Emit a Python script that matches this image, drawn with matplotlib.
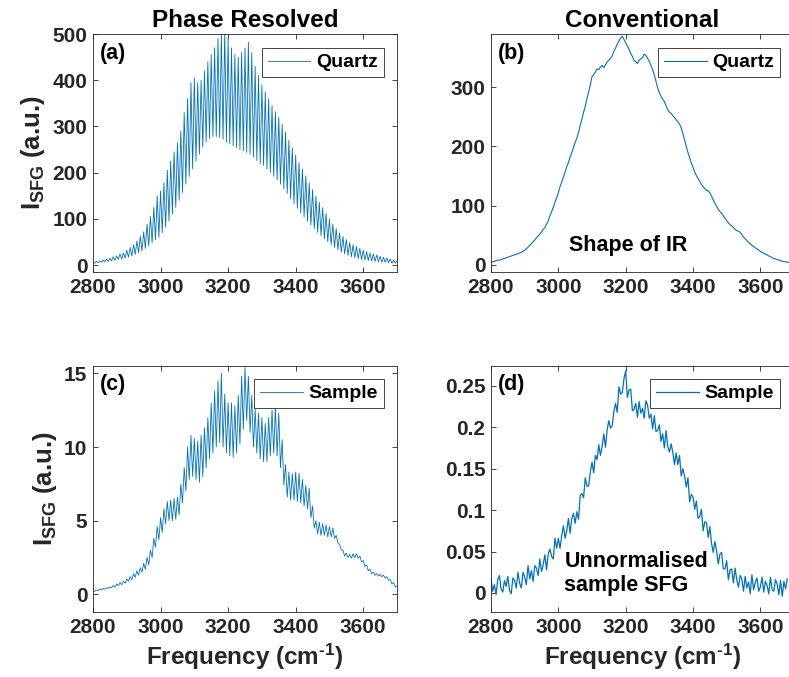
import numpy as np
import matplotlib
matplotlib.use("Agg")
import matplotlib.pyplot as plt
from matplotlib.ticker import FuncFormatter

# ---------------------------------------------------------------------------
# Data
# ---------------------------------------------------------------------------

# (a) phase-resolved quartz: fringe maxima (2800..3700 step 10) and
# fringe minima (2805..3695 step 10)
quartz_pr_peaks = [
    6, 8, 9, 11, 13, 15, 18, 20, 24, 26,
    32, 38, 44, 52, 62, 72, 88, 105, 125, 150,
    160, 178, 205, 225, 245, 265, 290, 330, 360, 395,
    405, 395, 400, 420, 440, 455, 470, 490, 500, 505,
    490, 470, 455, 450, 460, 470, 482, 460, 430, 410,
    390, 375, 360, 345, 332, 320, 305, 288, 270, 254,
    238, 222, 208, 193, 178, 163, 149, 136, 124, 112,
    100, 89, 79, 70, 62, 55, 49, 44, 40, 36,
    32, 29, 26, 24, 22, 19, 17, 15, 13, 11,
    9,
]
quartz_pr_troughs = [
    4, 5, 6, 7, 8, 9, 10, 12, 13, 15,
    17, 20, 23, 27, 31, 36, 42, 48, 55, 60,
    70, 82, 95, 110, 125, 140, 157, 175, 192, 208,
    225, 240, 255, 266, 274, 278, 278, 276, 272, 266,
    262, 258, 254, 250, 247, 244, 240, 234, 226, 219,
    216, 208, 200, 192, 184, 175, 165, 155, 144, 133,
    123, 113, 104, 95, 87, 79, 71, 64, 57, 51,
    44, 38, 33, 28, 24, 21, 18, 16, 14, 12,
    11, 10, 9, 8, 7, 6, 6, 5, 4, 4,
]

# (c) phase-resolved sample: fringe maxima / minima, same grids as (a)
sample_pr_peaks = [
    0.25, 0.3, 0.35, 0.4, 0.45, 0.5, 0.6, 0.7, 0.8, 0.9,
    1.05, 1.2, 1.4, 1.6, 1.8, 2.1, 2.5, 3.0, 3.8, 4.6,
    5.2, 5.8, 6.3, 6.4, 6.5, 6.6, 7.5, 8.6, 10.0, 10.8,
    10.6, 10.4, 10.8, 11.3, 12.0, 13.0, 13.8, 14.5, 15.0, 13.6,
    13.0, 13.0, 12.8, 13.5, 14.8, 15.4, 14.8, 13.5, 12.6, 12.3,
    12.0, 11.6, 12.0, 12.5, 12.7, 12.3, 10.5, 8.8, 8.3, 8.2,
    8.3, 8.2, 7.8, 7.4, 7.2, 6.0, 5.0, 4.9, 4.8, 4.7,
    4.6, 4.5, 4.0, 3.4, 3.0, 2.8, 2.7, 2.75, 2.75, 2.6,
    2.3, 2.0, 1.7, 1.5, 1.4, 1.35, 1.3, 1.2, 1.0, 0.8,
    0.55,
]
sample_pr_troughs = [
    0.2, 0.25, 0.3, 0.35, 0.4, 0.45, 0.5, 0.6, 0.65, 0.75,
    0.9, 1.0, 1.15, 1.3, 1.5, 1.7, 2.0, 2.5, 3.2, 3.7,
    4.2, 4.8, 5.0, 5.0, 5.1, 5.4, 6.2, 7.0, 7.8, 8.0,
    7.8, 7.6, 8.0, 8.6, 9.2, 9.6, 10.0, 10.3, 10.0, 9.6,
    9.4, 9.3, 9.6, 10.2, 11.2, 11.8, 11.0, 10.0, 9.6, 9.2,
    9.0, 9.0, 9.4, 9.6, 9.4, 8.6, 7.4, 6.6, 6.4, 6.4,
    6.3, 6.2, 6.0, 5.8, 5.2, 4.5, 4.1, 4.0, 4.0, 3.9,
    3.9, 3.8, 3.5, 3.0, 2.6, 2.5, 2.45, 2.5, 2.45, 2.2,
    1.9, 1.6, 1.4, 1.3, 1.25, 1.2, 1.1, 0.95, 0.7, 0.5,
]

# (b) conventional quartz, 2800..3700 step 5
quartz_conv = [
    4, 5, 6, 7, 8, 8, 9, 10, 11, 12, 13, 14, 15, 16, 17, 18, 19, 20, 21, 23,
    25, 27, 30, 33, 36, 39, 42, 46, 49, 52, 56, 60, 63, 69, 74, 83, 90, 97, 106, 113,
    122, 132, 140, 148, 157, 166, 173, 182, 190, 198, 207, 214, 224, 236, 246, 258, 268, 281, 292, 304,
    318, 321, 326, 331, 330, 334, 337, 333, 338, 343, 346, 349, 353, 361, 366, 373, 378, 383, 386, 381,
    375, 370, 364, 357, 352, 345, 343, 340, 346, 348, 350, 356, 354, 349, 344, 337, 330, 321, 310, 299,
    291, 285, 280, 276, 269, 262, 258, 256, 252, 249, 245, 242, 238, 231, 222, 211, 200, 190, 181, 172,
    165, 157, 151, 146, 141, 136, 132, 129, 126, 125, 122, 116, 110, 104, 99, 94, 90, 87, 83, 79,
    75, 71, 68, 66, 63, 60, 58, 57, 55, 51, 47, 44, 41, 38, 36, 33, 31, 29, 27, 25,
    23, 21, 20, 18, 17, 15, 14, 12, 11, 10, 9, 8, 7, 6, 6, 5, 5, 4, 4, 3,
    3,
]

# (d) conventional sample (noisy), 2800..3680 step 5
sample_conv = [
    0.017, 0.002, 0.010, -0.002, 0.016, 0.021, 0.005, 0.001, 0.015, 0.008,
    0.020, 0.003, -0.001, 0.018, 0.015, 0.006, 0.025, 0.012, 0.006, 0.025,
    0.019, 0.010, 0.033, 0.017, 0.027, 0.014, 0.033, 0.030, 0.021, 0.041,
    0.026, 0.034, 0.046, 0.028, 0.047, 0.053, 0.044, 0.041, 0.066, 0.054,
    0.066, 0.054, 0.069, 0.081, 0.066, 0.075, 0.090, 0.072, 0.090, 0.096,
    0.084, 0.098, 0.089, 0.118, 0.120, 0.115, 0.139, 0.129, 0.129, 0.146,
    0.158, 0.145, 0.166, 0.161, 0.179, 0.166, 0.177, 0.192, 0.176, 0.197,
    0.208, 0.199, 0.202, 0.219, 0.229, 0.218, 0.249, 0.240, 0.242, 0.259,
    0.268, 0.236, 0.245, 0.246, 0.220, 0.222, 0.229, 0.212, 0.231, 0.217,
    0.223, 0.211, 0.232, 0.227, 0.211, 0.216, 0.198, 0.214, 0.195, 0.196,
    0.203, 0.183, 0.192, 0.175, 0.196, 0.177, 0.170, 0.180, 0.170, 0.155,
    0.169, 0.155, 0.166, 0.141, 0.150, 0.141, 0.128, 0.139, 0.110, 0.119,
    0.116, 0.101, 0.111, 0.090, 0.092, 0.101, 0.075, 0.086, 0.085, 0.067,
    0.080, 0.060, 0.049, 0.062, 0.051, 0.035, 0.047, 0.049, 0.029, 0.029,
    0.039, 0.016, 0.028, 0.029, 0.012, 0.030, 0.016, 0.007, 0.021, 0.017,
    0.002, 0.020, 0.006, 0.013, -0.001, 0.022, 0.004, 0.013, 0.018, 0.002,
    0.007, 0.019, 0.001, 0.014, 0.009, -0.001, 0.019, 0.004, 0.002, 0.016,
    0.011, -0.002, 0.015, -0.004, 0.014, 0.005, 0.017,
]

freq_pr = np.arange(2800, 3701, 5)
freq_qc = np.arange(2800, 3701, 5)
freq_sc = np.arange(2800, 3681, 5)

x_ticks = [2800, 3000, 3200, 3400, 3600]

# ---------------------------------------------------------------------------
# Style
# ---------------------------------------------------------------------------
plt.rcParams["font.family"] = ["Liberation Sans", "DejaVu Sans"]
plt.rcParams["font.weight"] = "bold"
plt.rcParams["axes.titleweight"] = "bold"
plt.rcParams["axes.labelweight"] = "bold"
plt.rcParams["mathtext.fontset"] = "custom"
plt.rcParams["mathtext.rm"] = "Liberation Sans:bold"
plt.rcParams["mathtext.bf"] = "Liberation Sans:bold"
plt.rcParams["mathtext.default"] = "rm"

LINE = "#0072BD"
INK = "#262626"

W, H = 789, 677
fig = plt.figure(figsize=(W / 100, H / 100), dpi=100)


def px_axes(left, top, right, bottom):
    return fig.add_axes([left / W, 1 - bottom / H, (right - left) / W, (bottom - top) / H])


ax_a = px_axes(93, 34, 397, 272)
ax_b = px_axes(491, 34, 794, 272)
ax_c = px_axes(93, 366, 397, 612)
ax_d = px_axes(491, 366, 794, 612)


def interleave(peaks, troughs):
    v = np.empty(len(peaks) + len(troughs))
    v[0::2] = peaks
    v[1::2] = troughs
    return v


ax_a.plot(freq_pr, interleave(quartz_pr_peaks, quartz_pr_troughs), color=LINE, lw=0.6, label="Quartz")
ax_b.plot(freq_qc, quartz_conv, color=LINE, lw=0.8, label="Quartz")
ax_c.plot(freq_pr, interleave(sample_pr_peaks, sample_pr_troughs), color=LINE, lw=0.6, label="Sample")
ax_d.plot(freq_sc, sample_conv, color=LINE, lw=0.9, label="Sample")

ax_a.set_ylim(-15, 500)
ax_a.set_yticks([0, 100, 200, 300, 400, 500])
ax_b.set_ylim(-12, 390)
ax_b.set_yticks([0, 100, 200, 300])
ax_c.set_ylim(-1.2, 15.5)
ax_c.set_yticks([0, 5, 10, 15])
ax_d.set_ylim(-0.023, 0.274)
ax_d.set_yticks([0, 0.05, 0.1, 0.15, 0.2, 0.25])
ax_d.yaxis.set_major_formatter(FuncFormatter(lambda v, p: f"{v:g}"))

legend_anchor = {ax_a: (0.957, 0.941), ax_b: (0.954, 0.941),
                 ax_c: (0.957, 0.947), ax_d: (0.954, 0.947)}
panel_tag = {ax_a: "(a)", ax_b: "(b)", ax_c: "(c)", ax_d: "(d)"}

for ax in (ax_a, ax_b, ax_c, ax_d):
    ax.set_xlim(2800, 3700)
    ax.set_xticks(x_ticks)
    ax.tick_params(direction="in", top=True, right=True, length=3.5, width=0.6,
                   labelsize=15, color=INK, labelcolor=INK, pad=4)
    for s in ax.spines.values():
        s.set_linewidth(0.6)
        s.set_color(INK)
    leg = ax.legend(loc="upper right", bbox_to_anchor=legend_anchor[ax], borderaxespad=0,
                    fancybox=False, edgecolor=INK, fontsize=14, handlelength=2.2,
                    handletextpad=0.3, borderpad=0.3, framealpha=1)
    leg.get_frame().set_linewidth(0.6)
    top_frac = 0.92 if ax in (ax_a, ax_b) else 0.923
    ax.text(0.022, top_frac, panel_tag[ax], transform=ax.transAxes, ha="left", va="center",
            fontsize=15.5, color="black")

ax_a.set_title("Phase Resolved", fontsize=17.5, pad=5)
ax_b.set_title("Conventional", fontsize=17.5, pad=5)

for ax in (ax_a, ax_c):
    ax.set_ylabel(r"I$_\mathregular{SFG}$ (a.u.)", fontsize=18.5, color=INK, labelpad=4)
for ax in (ax_c, ax_d):
    ax.set_xlabel(r"Frequency (cm$^{\text{-1}}$)", fontsize=17.5, color=INK, labelpad=4)

ax_b.text(3206, 32, "Shape of IR", ha="center", va="center", fontsize=15.5, color="black")
ax_d.text(3018, 0.023, "Unnormalised\nsample SFG", ha="left", va="center", fontsize=15.5,
          color="black", linespacing=1.2)

fig.savefig("out.png", dpi=100)
